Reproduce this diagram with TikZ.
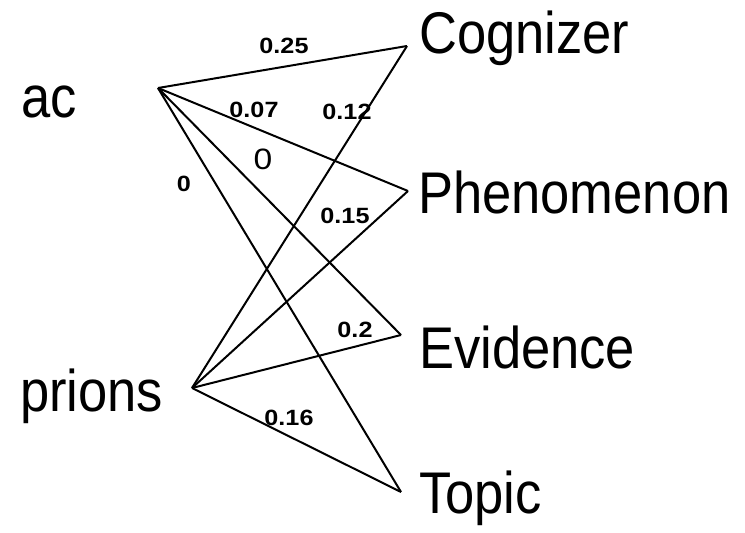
\documentclass[tikz,border=0pt]{standalone}
\usepackage{fontspec}
\setmainfont{Liberation Sans}
\newcommand{\wrd}[1]{\scalebox{1}[1.12]{#1}}
\newcommand{\wgt}[1]{\scalebox{1.05}[0.92]{#1}}
\begin{document}
\begin{tikzpicture}[x=1pt,y=-1pt,
  word/.style={anchor=base west,inner sep=0pt,font=\fontsize{52.5}{52.5}\selectfont},
  wlabel/.style={inner sep=0pt,font=\bfseries\fontsize{24}{24}\selectfont},
  link/.style={draw=black,line width=2pt,line join=round}]
\useasboundingbox[fill=white] (0,0) rectangle (745,533);
% end points
\coordinate (pac) at (158,88);
\coordinate (ppr) at (192,388);
\coordinate (pcog) at (407,46);
\coordinate (pphe) at (408,191);
\coordinate (pevi) at (401,335);
\coordinate (ptop) at (401,492);
% words
\node[word] (ac) at (21,117) {\wrd{ac}};
\node[word] (prions) at (20,411) {\wrd{prions}};
\node[word] (cog) at (419,53) {\wrd{Cognizer}};
\node[word] (phe) at (418,213) {\wrd{Phenomenon}};
\node[word] (evi) at (419,368) {\wrd{Evidence}};
\node[word] (top) at (419,513) {\wrd{Topic}};
% links
\draw[link] (pac) -- (pcog);
\draw[link] (pac) -- (pphe);
\draw[link] (pac) -- (pevi);
\draw[link] (pac) -- (ptop);
\draw[link] (ppr) -- (pcog);
\draw[link] (ppr) -- (pphe);
\draw[link] (ppr) -- (pevi);
\draw[link] (ppr) -- (ptop);
% weights
\node[wlabel] (w1) at (284,46) {\wgt{0.25}};
\node[wlabel] (w2) at (254,110) {\wgt{0.07}};
\node[wlabel] (w3) at (347,112) {\wgt{0.12}};
\node[wlabel,font=\fontsize{32}{32}\selectfont] (w4) at (263,159) {\wgt{0}};
\node[wlabel] (w5) at (184,184) {\wgt{0}};
\node[wlabel] (w6) at (345,216) {\wgt{0.15}};
\node[wlabel] (w7) at (355,330) {\wgt{0.2}};
\node[wlabel] (w8) at (289,418) {\wgt{0.16}};
\end{tikzpicture}
\end{document}
